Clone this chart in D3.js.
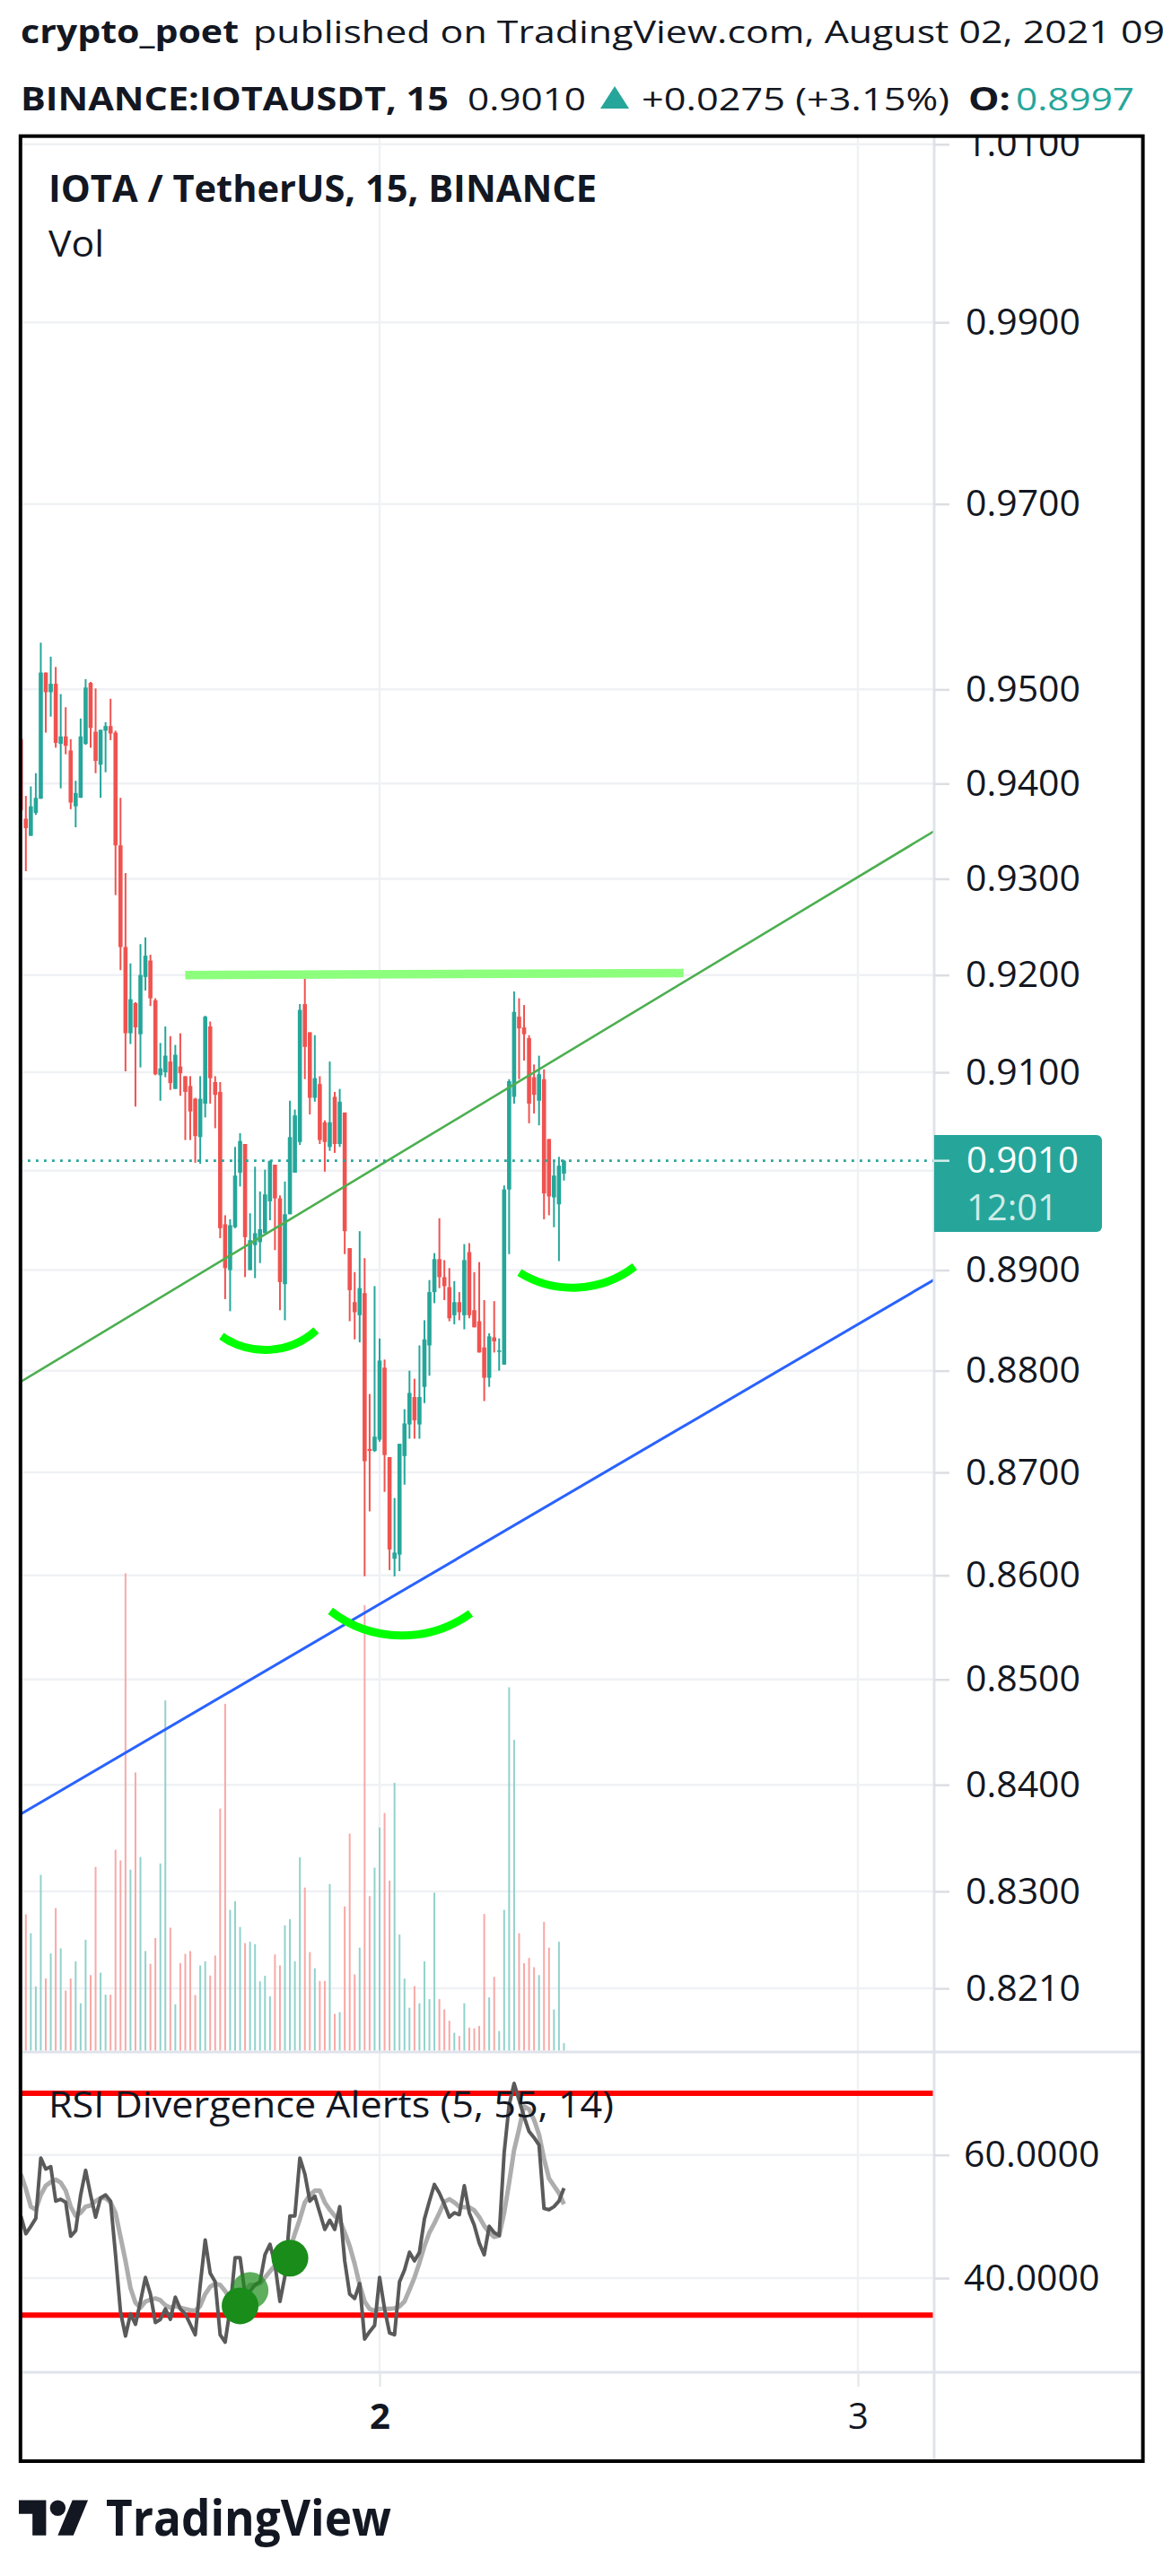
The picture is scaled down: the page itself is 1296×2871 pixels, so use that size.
<!DOCTYPE html>
<html><head><meta charset="utf-8">
<script src="https://cdn.jsdelivr.net/npm/d3@7"></script>
<style>html,body{margin:0;padding:0;background:#fff}svg{display:block}text{font-family:"Open Sans","Noto Sans",sans-serif}</style>
</head><body>
<svg id="chart" width="1296" height="2871"></svg>
<script>
// ---------------- DATA ----------------
const firstBarTime = "2021-08-01T06:00:00Z";   // 15-minute bars
const barMinutes = 15;
const opens = [
0.9447,0.9363,0.9345,0.9369,0.9384,0.9518,0.9497,0.9506,0.9442,0.9450,
0.9435,0.9376,0.9385,0.9442,0.9507,0.9455,0.9420,0.9456,0.9461,0.9454,
0.9335,0.9229,0.9140,0.9171,0.9139,0.9198,0.9215,0.9174,0.9097,0.9100,
0.9111,0.9083,0.9106,0.9096,0.9086,0.9073,0.9034,0.9068,0.9147,0.9090,
0.9080,0.8946,0.8900,0.8943,0.8998,0.9027,0.8900,0.8925,0.8928,0.8937,
0.8969,0.9006,0.8972,0.8886,0.8956,0.8998,0.9029,0.9170,0.9141,0.9074,
0.9088,0.9049,0.9024,0.9075,0.9027,0.9059,0.8922,0.8868,0.8855,0.8877,
0.8723,0.8721,0.8732,0.8803,0.8715,0.8616,0.8620,0.8716,0.8747,0.8774,
0.8747,0.8784,0.8825,0.8878,0.8911,0.8893,0.8883,0.8855,0.8868,0.8855,
0.8918,0.8860,0.8849,0.8823,0.8793,0.8833,0.8819,0.8806,0.8981,0.9075,
0.9157,0.9146,0.9135,0.9095,0.9071,0.9093,0.9032,0.8973,0.8966,0.8997];
const highs = [
0.9450,0.9387,0.9397,0.9411,0.9550,0.9518,0.9535,0.9524,0.9495,0.9481,
0.9447,0.9403,0.9469,0.9511,0.9508,0.9501,0.9457,0.9465,0.9490,0.9456,
0.9385,0.9306,0.9212,0.9172,0.9232,0.9239,0.9221,0.9176,0.9130,0.9147,
0.9137,0.9128,0.9140,0.9096,0.9096,0.9074,0.9096,0.9158,0.9152,0.9096,
0.9090,0.8955,0.8951,0.9024,0.9038,0.9027,0.8957,0.9004,0.8979,0.9001,
0.9010,0.9006,0.8975,0.8989,0.9071,0.9062,0.9170,0.9196,0.9141,0.9138,
0.9096,0.9051,0.9111,0.9080,0.9083,0.9059,0.8922,0.8898,0.8939,0.8912,
0.8777,0.8884,0.8832,0.8811,0.8715,0.8675,0.8728,0.8762,0.8800,0.8792,
0.8825,0.8850,0.8890,0.8917,0.8952,0.8910,0.8902,0.8889,0.8878,0.8926,
0.8927,0.8898,0.8908,0.8870,0.8837,0.8869,0.8832,0.8985,0.9093,0.9183,
0.9176,0.9169,0.9138,0.9108,0.9117,0.9103,0.9032,0.9010,0.9014,0.9011];
const lows = [
0.9370,0.9308,0.9345,0.9367,0.9384,0.9454,0.9471,0.9438,0.9395,0.9431,
0.9373,0.9354,0.9385,0.9441,0.9438,0.9411,0.9385,0.9412,0.9446,0.9283,
0.9205,0.9101,0.9129,0.9065,0.9105,0.9184,0.9168,0.9097,0.9071,0.9095,
0.9082,0.9083,0.9076,0.9031,0.9031,0.9008,0.9007,0.9054,0.9068,0.9043,
0.8932,0.8871,0.8859,0.8942,0.8984,0.8893,0.8900,0.8892,0.8907,0.8937,
0.8950,0.8920,0.8860,0.8850,0.8956,0.8998,0.9026,0.9093,0.9057,0.9070,
0.9027,0.8999,0.9020,0.9018,0.9024,0.8916,0.8849,0.8831,0.8828,0.8599,
0.8662,0.8720,0.8730,0.8681,0.8605,0.8599,0.8604,0.8688,0.8733,0.8733,
0.8733,0.8768,0.8795,0.8867,0.8882,0.8870,0.8849,0.8846,0.8850,0.8841,
0.8852,0.8843,0.8818,0.8770,0.8784,0.8818,0.8800,0.8806,0.8916,0.9068,
0.9093,0.9112,0.9048,0.9058,0.9046,0.8951,0.8955,0.8943,0.8909,0.8990];
const closes = [
0.9372,0.9353,0.9376,0.9385,0.9518,0.9497,0.9506,0.9443,0.9450,0.9440,
0.9380,0.9390,0.9450,0.9502,0.9459,0.9424,0.9457,0.9461,0.9453,0.9335,
0.9229,0.9140,0.9175,0.9146,0.9200,0.9220,0.9176,0.9098,0.9104,0.9117,
0.9089,0.9118,0.9099,0.9080,0.9060,0.9035,0.9073,0.9157,0.9094,0.9077,
0.8942,0.8902,0.8945,0.8995,0.9030,0.8933,0.8930,0.8937,0.8941,0.8976,
0.9010,0.8972,0.8888,0.8956,0.9034,0.9056,0.9164,0.9126,0.9074,0.9094,
0.9031,0.9029,0.9049,0.9027,0.9070,0.8939,0.8880,0.8858,0.8882,0.8711,
0.8721,0.8735,0.8810,0.8717,0.8625,0.8622,0.8728,0.8748,0.8778,0.8751,
0.8774,0.8831,0.8878,0.8911,0.8893,0.8884,0.8852,0.8868,0.8858,0.8910,
0.8855,0.8843,0.8818,0.8793,0.8834,0.8829,0.8820,0.8981,0.9091,0.9162,
0.9145,0.9139,0.9068,0.9077,0.9098,0.8977,0.8974,0.8995,0.9005,0.9010];
const volumeK = [
300,397,342,187,512,210,283,415,298,175,
210,260,138,323,220,535,227,163,163,585,
554,1390,527,810,564,290,253,328,545,1020,
358,135,255,282,290,162,248,260,219,277,
705,1010,410,435,360,313,317,310,202,218,
158,280,248,365,383,260,563,475,287,240,
203,203,485,107,112,420,632,222,300,1297,
450,533,650,692,495,780,338,210,125,188,
138,260,150,460,150,120,87,52,43,138,
67,65,72,398,155,215,57,410,1058,905,
342,255,270,243,220,375,300,120,317,22];
const rsi = [
50.1,47.2,48.4,49.7,59.5,57.7,58.1,52.5,52.8,52.3,
46.8,47.7,53.5,57.5,53.5,49.9,53.0,53.5,52.5,43.8,
34.5,30.6,34.2,32.5,36.2,40.1,37.4,32.8,33.3,35.0,
33.3,36.9,35.0,34.2,32.5,30.8,38.9,46.2,40.8,39.4,
30.8,29.6,35.0,43.3,43.3,37.4,37.9,38.9,39.4,43.8,
45.5,42.3,36.2,40.3,50.1,50.1,59.5,56.9,52.5,53.3,
50.6,47.9,49.4,47.9,51.6,42.8,37.4,36.7,39.1,30.1,
31.3,32.3,40.1,35.0,31.1,30.8,39.4,41.3,44.2,42.8,
44.2,49.6,52.5,55.2,53.8,52.0,49.9,50.6,50.3,55.0,
50.6,48.6,45.7,43.8,48.4,47.4,46.9,60.3,68.1,71.6,
68.9,66.2,63.8,62.8,61.6,51.3,51.1,51.6,52.5,54.6];
const rsiSignal = [
56.9,54.5,51.6,51.1,53.5,55.0,55.6,56.0,55.5,54.2,
51.6,50.1,50.6,51.6,51.8,52.5,53.0,53.0,52.3,50.6,
46.7,42.8,38.4,36.0,35.2,36.2,36.5,36.7,36.4,35.6,
35.2,35.5,35.2,35.0,34.8,34.7,35.5,37.4,38.6,39.1,
38.9,37.9,36.7,36.8,37.2,38.0,38.9,38.9,39.2,40.1,
41.1,42.0,43.2,44.0,44.7,47.2,49.6,52.3,53.5,54.2,
54.2,52.3,51.1,50.1,49.4,47.4,45.2,42.3,38.9,36.2,
35.0,34.7,35.0,35.0,35.0,35.1,35.4,36.2,38.1,40.1,
42.5,45.2,47.4,48.9,50.6,52.4,52.8,52.3,51.6,51.5,
51.5,51.0,49.9,48.5,47.4,46.7,46.9,50.6,55.5,60.8,
64.2,67.9,67.4,65.7,63.3,59.4,56.2,55.0,53.8,52.0];
const rsiBands = [70, 34];
const divergenceSignals = [
  {t:"2021-08-01T17:30:00Z", v:38.0, faded:true},
  {t:"2021-08-01T17:00:00Z", v:35.5, faded:false},
  {t:"2021-08-01T19:30:00Z", v:43.25, faded:false}];
const priceTicks = [1.01,0.99,0.97,0.95,0.94,0.93,0.92,0.91,0.90,0.89,0.88,0.87,0.86,0.85,0.84,0.83,0.821];
const hiddenPriceLabels = [0.90];   // covered by the last-price badge in the original
const rsiTicks = [60, 40];
const xTickDates = ["2021-08-02T00:00:00Z","2021-08-03T00:00:00Z"];
const xTickLabels = ["2","3"];
const lastPrice = 0.9010, countdown = "12:01";
const greenTrend = [{t:"2021-08-01T06:00:00Z", p:0.87891},{t:"2021-08-03T03:15:00Z", p:0.93427}];
const blueTrend  = [{t:"2021-08-01T06:00:00Z", p:0.83725},{t:"2021-08-03T03:15:00Z", p:0.88837}];
const resistance = [{t:"2021-08-01T14:15:00Z", p:0.9200},{t:"2021-08-02T15:15:00Z", p:0.9202}];
const arcs = [
  [{t:"2021-08-01T16:04:00Z",p:0.88342},{t:"2021-08-01T18:26:00Z",p:0.88206},{t:"2021-08-01T20:49:00Z",p:0.88400}],
  [{t:"2021-08-01T21:32:00Z",p:0.85657},{t:"2021-08-02T01:07:00Z",p:0.85420},{t:"2021-08-02T04:34:00Z",p:0.85634}],
  [{t:"2021-08-02T07:01:00Z",p:0.88976},{t:"2021-08-02T09:59:00Z",p:0.88826},{t:"2021-08-02T12:48:00Z",p:0.89035}]];

// ---------------- LAYOUT ----------------
const svg = d3.select("#chart");
const INK = "#131722", UP = "#26a69a", DOWN = "#ef5350";
const UPV = "#92d2cc", DOWNV = "#f7a9a7", GRID = "#eff1f4", SEP = "#e0e3eb";
const plotL = 22, axisX = 1041, frameR = 1273.6, mainTop = 152, mainBottom = 2287, rsiBottom = 2644, frameBottom = 2743;

svg.append("rect").attr("width",1296).attr("height",2871).attr("fill","#fff");

const t0 = new Date(firstBarTime);
const times = d3.range(opens.length).map(k => d3.utcMinute.offset(t0, barMinutes*k));

const x = d3.scaleUtc().domain(xTickDates.map(d=>new Date(d))).range([423, 956]);
const y = d3.scaleLog().domain([priceTicks[priceTicks.length-1], priceTicks[0]]).range([2216.1, 160.8]);
const yVol = d3.scaleLinear().domain([0, d3.max(volumeK)*4.01]).range([2285.5, mainTop]);
const yR = d3.scaleLinear().domain([40, 60]).range([2539.0, 2401.7]);

const defs = svg.append("defs");
defs.append("clipPath").attr("id","mainClip").append("rect").attr("x",plotL).attr("y",mainTop).attr("width",axisX-plotL).attr("height",mainBottom-mainTop);
defs.append("clipPath").attr("id","rsiClip").append("rect").attr("x",plotL).attr("y",mainBottom).attr("width",axisX-plotL).attr("height",rsiBottom-mainBottom);
defs.append("clipPath").attr("id","axisClip").append("rect").attr("x",axisX).attr("y",mainTop+1).attr("width",frameR-axisX).attr("height",mainBottom-mainTop-1);

// gridlines
const grid = svg.append("g");
grid.selectAll(".hg").data(priceTicks).join("line")
  .attr("x1",plotL).attr("x2",axisX).attr("y1",d=>y(d)).attr("y2",d=>y(d))
  .attr("stroke",GRID).attr("stroke-width",2.5);
grid.selectAll(".rg").data(rsiTicks).join("line")
  .attr("x1",plotL).attr("x2",axisX).attr("y1",d=>yR(d)).attr("y2",d=>yR(d))
  .attr("stroke",GRID).attr("stroke-width",2.5);
grid.selectAll(".vg").data(xTickDates).join("line")
  .attr("x1",d=>x(new Date(d))).attr("x2",d=>x(new Date(d))).attr("y1",mainTop).attr("y2",rsiBottom)
  .attr("stroke",GRID).attr("stroke-width",2.5);

// main pane
const main = svg.append("g").attr("clip-path","url(#mainClip)");
const bars = d3.range(opens.length);
main.append("g").selectAll("rect").data(bars).join("rect")
  .attr("x", i => x(times[i]) - 1).attr("width", 2)
  .attr("y", i => yVol(volumeK[i])).attr("height", i => yVol(0) - yVol(volumeK[i]))
  .attr("fill", i => closes[i] >= opens[i] ? UPV : DOWNV);
const cg = main.append("g");
cg.selectAll("line").data(bars).join("line")
  .attr("x1", i => x(times[i])).attr("x2", i => x(times[i]))
  .attr("y1", i => y(highs[i])).attr("y2", i => y(lows[i]))
  .attr("stroke", i => closes[i] >= opens[i] ? UP : DOWN).attr("stroke-width", 2);
cg.selectAll("rect").data(bars).join("rect")
  .attr("x", i => x(times[i]) - 2.3).attr("width", 4.6)
  .attr("y", i => Math.min(y(opens[i]), y(closes[i])))
  .attr("height", i => Math.max(1.6, Math.abs(y(opens[i]) - y(closes[i]))))
  .attr("fill", i => closes[i] >= opens[i] ? UP : DOWN);

function pt(d){ return [x(new Date(d.t)), y(d.p)]; }
function extended(a, b){
  const p1 = pt(a), p2 = pt(b), m = (p2[1]-p1[1])/(p2[0]-p1[0]);
  return [[plotL, p1[1] + m*(plotL-p1[0])],[axisX, p1[1] + m*(axisX-p1[0])]];
}
const line = d3.line();
main.append("path").attr("d", line(extended(...greenTrend))).attr("fill","none").attr("stroke","#4caf50").attr("stroke-width",2.6);
main.append("path").attr("d", line(extended(...blueTrend))).attr("fill","none").attr("stroke","#2962ff").attr("stroke-width",3);
main.append("path").attr("d", line(resistance.map(pt))).attr("fill","none").attr("stroke","#8cff7d").attr("stroke-width",9.5);
function arcPath(pts){
  const [[ax,ay],[bx,by],[cx,cy]] = pts.map(pt);
  const d = 2*(ax*(by-cy)+bx*(cy-ay)+cx*(ay-by));
  const ux = ((ax*ax+ay*ay)*(by-cy)+(bx*bx+by*by)*(cy-ay)+(cx*cx+cy*cy)*(ay-by))/d;
  const uy = ((ax*ax+ay*ay)*(cx-bx)+(bx*bx+by*by)*(ax-cx)+(cx*cx+cy*cy)*(bx-ax))/d;
  const r = Math.hypot(ax-ux, ay-uy);
  const cross = (bx-ax)*(cy-by) - (by-ay)*(cx-bx);
  return `M${ax},${ay}A${r},${r} 0 0 ${cross>0?1:0} ${cx},${cy}`;
}
main.selectAll(".arc").data(arcs).join("path").attr("d", arcPath)
  .attr("fill","none").attr("stroke","#00ff00").attr("stroke-width",9);
main.append("line").attr("x1",plotL).attr("x2",axisX).attr("y1",y(lastPrice)).attr("y2",y(lastPrice))
  .attr("stroke",UP).attr("stroke-width",2.8).attr("stroke-dasharray","2.8,6.2");

// RSI pane
const rp = svg.append("g").attr("clip-path","url(#rsiClip)");
rp.selectAll(".band").data(rsiBands).join("line")
  .attr("x1",plotL).attr("x2",axisX).attr("y1",d=>yR(d)).attr("y2",d=>yR(d))
  .attr("stroke","#ff0000").attr("stroke-width",6);
const rline = d3.line().x((d,i)=>x(times[i])).y(d=>yR(d));
rp.append("path").attr("d", rline(rsiSignal)).attr("fill","none").attr("stroke","#adadad").attr("stroke-width",5).attr("stroke-linejoin","round");
rp.append("path").attr("d", rline(rsi)).attr("fill","none").attr("stroke","#5a5a5a").attr("stroke-width",4).attr("stroke-linejoin","round");
rp.selectAll("circle").data(divergenceSignals).join("circle")
  .attr("cx", d=>x(new Date(d.t))).attr("cy", d=>yR(d.v)).attr("r", 20.5)
  .attr("fill","#1a8c1a").attr("fill-opacity", d=>d.faded?0.7:1);

// separators & frame lines
svg.append("line").attr("x1",plotL).attr("x2",frameR).attr("y1",mainBottom).attr("y2",mainBottom).attr("stroke",SEP).attr("stroke-width",3);
svg.append("line").attr("x1",plotL).attr("x2",frameR).attr("y1",rsiBottom).attr("y2",rsiBottom).attr("stroke",SEP).attr("stroke-width",3);
svg.append("line").attr("x1",axisX).attr("x2",axisX).attr("y1",mainTop).attr("y2",frameBottom).attr("stroke",SEP).attr("stroke-width",3);

// price axis (outer group clips, inner group is translated)
const fmt4 = d3.format(".4f");
const pa = svg.append("g").attr("clip-path","url(#axisClip)").append("g").attr("transform",`translate(${axisX},0)`)
  .call(d3.axisRight(y).tickValues(priceTicks).tickFormat(d => hiddenPriceLabels.includes(d) ? "" : fmt4(d)).tickSize(17).tickPadding(18));
pa.select(".domain").remove();
pa.selectAll(".tick line").attr("stroke","#dcdee3").attr("stroke-width",2.5);
pa.selectAll(".tick text").attr("font-size",41).attr("fill",INK).attr("font-family",'"Open Sans",sans-serif');

const ra = svg.append("g").attr("transform",`translate(${axisX},0)`)
  .call(d3.axisRight(yR).tickValues(rsiTicks).tickFormat(fmt4).tickSize(17).tickPadding(16));
ra.select(".domain").remove();
ra.selectAll(".tick line").attr("stroke","#dcdee3").attr("stroke-width",2.5);
ra.selectAll(".tick text").attr("font-size",41).attr("fill",INK).attr("font-family",'"Open Sans",sans-serif');

const xa = svg.append("g").attr("transform",`translate(0,${rsiBottom})`)
  .call(d3.axisBottom(x).tickValues(xTickDates.map(d=>new Date(d))).tickFormat((d,i)=>xTickLabels[i]).tickSize(16).tickPadding(19));
xa.select(".domain").remove();
xa.selectAll(".tick line").attr("stroke","#e6e8ec").attr("stroke-width",2.5);
xa.selectAll(".tick text").attr("font-size",40).attr("fill",INK).attr("font-family",'"Open Sans",sans-serif')
  .attr("font-weight",(d,i)=>i===0?700:400);

// last price badge
const by0 = y(lastPrice);
const badge = svg.append("g");
badge.append("rect").attr("x",axisX).attr("y",by0-28.7).attr("width",187).attr("height",108).attr("rx",6).attr("fill",UP);
badge.append("rect").attr("x",axisX).attr("y",by0-28.7).attr("width",12).attr("height",108).attr("fill",UP);
badge.append("line").attr("x1",axisX).attr("x2",axisX+17).attr("y1",by0).attr("y2",by0).attr("stroke","#fff").attr("stroke-opacity",0.8).attr("stroke-width",2.5);
badge.append("text").attr("x",1077).attr("y",1307).attr("font-size",40).attr("fill","#fff").text(fmt4(lastPrice));
badge.append("text").attr("x",1077).attr("y",1360).attr("font-size",40).attr("fill","#fff").attr("fill-opacity",0.78).text(countdown);

// legends
function txt(s, xx, yy, size, weight, w, fill){
  const t = svg.append("text").attr("x",xx).attr("y",yy).attr("font-size",size).attr("font-weight",weight||400).attr("fill",fill||INK).text(s);
  if (w) t.attr("textLength",w).attr("lengthAdjust","spacingAndGlyphs");
  return t;
}
txt("IOTA / TetherUS, 15, BINANCE", 54, 225, 41, 700, 611);
txt("Vol", 54, 286, 41, 400, 62);
txt("RSI Divergence Alerts (5, 55, 14)", 54, 2360, 41, 400, 630);

// header
txt("crypto_poet", 23, 48, 35, 700, 243);
txt("published on TradingView.com, August 02, 2021 09", 282, 48, 35, 400, 1016);
txt("BINANCE:IOTAUSDT, 15", 23, 123, 35, 700, 477);
txt(fmt4(lastPrice), 521, 123, 35, 400, 132);
svg.append("path").attr("d","M685,96L701,121L669,121Z").attr("fill",UP);
txt("+0.0275 (+3.15%)", 715, 123, 35, 400, 343);
txt("O:", 1079, 123, 35, 700, 47);
txt("0.8997", 1132, 123, 35, 400, 132, UP);

// frame
svg.append("rect").attr("x",22.8).attr("y",151.7).attr("width",frameR-22.8).attr("height",frameBottom-151.7)
  .attr("fill","none").attr("stroke","#000").attr("stroke-width",4);

// logo
const logo = svg.append("g").attr("transform","translate(21,2777.9) scale(2.17)").attr("fill",INK);
logo.append("path").attr("d","M14 22H7V11H0V4h14v18zM28 22h-8l7.5-18h8L28 22z");
logo.append("circle").attr("cx",20).attr("cy",8).attr("r",4);
txt("TradingView", 118, 2826, 55, 700, 318);
</script>
</body></html>
